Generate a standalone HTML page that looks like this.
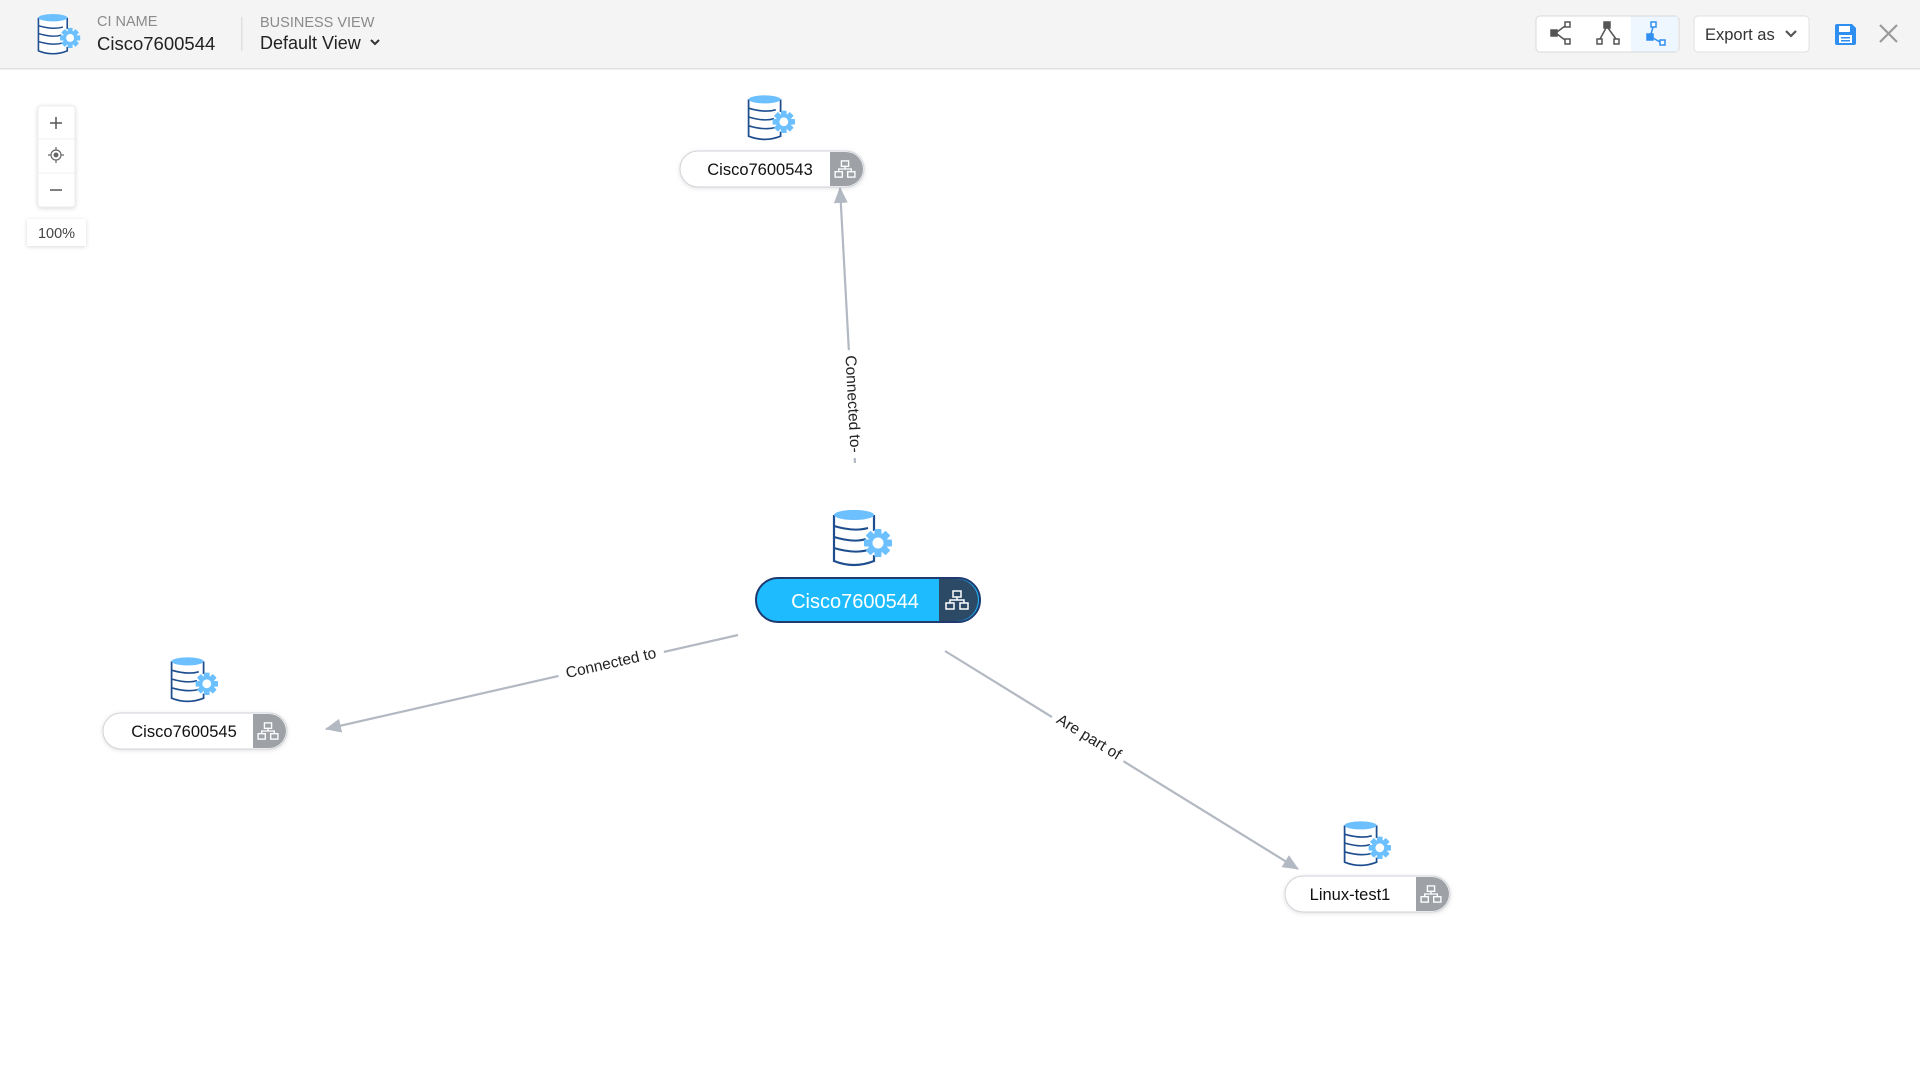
<!DOCTYPE html>
<html><head><meta charset="utf-8">
<style>
html,body{margin:0;padding:0;width:1920px;height:1080px;overflow:hidden;background:#fff;font-family:"Liberation Sans",sans-serif;}
</style></head>
<body>
<svg width="1920" height="1080" viewBox="0 0 1920 1080" xmlns="http://www.w3.org/2000/svg" style="position:absolute;left:0;top:0;font-family:'Liberation Sans',sans-serif">
<defs>
  <g id="db">
    <ellipse cx="22" cy="8" rx="20" ry="5" fill="#6cc0ff"/>
    <path d="M2 8 V54 Q22 62 42 54 V8" fill="#fff" stroke="#1f4e8f" stroke-width="2.2"/>
    <ellipse cx="22" cy="8" rx="20" ry="5" fill="#6cc0ff"/>
    <path d="M2 19 Q22 25 36 21 M2 30 Q22 36 34 32 M2 41 Q22 47 36 43" fill="none" stroke="#1f4e8f" stroke-width="2"/>
    <g transform="translate(46,36)">
      <circle r="13" fill="#fff"/>
      <g fill="#6cc0ff">
        <circle r="10"/>
        <rect x="-3.5" y="-14" width="7" height="28" rx="1"/>
        <rect x="-3.5" y="-14" width="7" height="28" rx="1" transform="rotate(45)"/>
        <rect x="-3.5" y="-14" width="7" height="28" rx="1" transform="rotate(90)"/>
        <rect x="-3.5" y="-14" width="7" height="28" rx="1" transform="rotate(135)"/>
      </g>
      <circle r="5.5" fill="#fff"/>
    </g>
  </g>
  <g id="tree">
    <g fill="none" stroke="#fff" stroke-width="1.5">
      <rect x="-4" y="-9" width="8" height="6"/>
      <rect x="-11" y="3" width="8" height="6"/>
      <rect x="3" y="3" width="8" height="6"/>
      <path d="M0 -3 V0 M-7 3 V0 H7 V3"/>
    </g>
  </g>
  <marker id="arr" viewBox="0 0 16 14" refX="15" refY="7" markerWidth="16" markerHeight="14" orient="auto" markerUnits="userSpaceOnUse">
    <path d="M0 0 L16 7 L0 14 z" fill="#b3b9c2"/>
  </marker>
</defs>

<rect x="0" y="0" width="1920" height="68" fill="#f4f4f4"/>
<rect x="0" y="68" width="1920" height="1.5" fill="#e0e0e0"/>
<g transform="translate(37,12) scale(0.72)"><use href="#db"/></g>
<text x="97" y="26" font-size="14.5" fill="#8a8a8a">CI NAME</text>
<text x="97" y="50" font-size="18.5" fill="#222">Cisco7600544</text>
<rect x="241" y="17" width="1.5" height="34" fill="#e0e0e0"/>
<text x="260" y="27" font-size="14.5" fill="#8a8a8a">BUSINESS VIEW</text>
<text x="260" y="49" font-size="18" fill="#222">Default View</text>
<path d="M371 40 l4 4 l4 -4" fill="none" stroke="#333" stroke-width="2"/>

<rect x="1536" y="16" width="143" height="36" rx="4" fill="#fff" stroke="#d8d8d8"/>
<rect x="1631" y="16.5" width="47" height="35" fill="#eef7ff"/>
<g fill="#555" stroke="#555" stroke-width="1.5">
  <rect x="1551" y="30" width="6" height="6"/>
  <rect x="1565" y="22" width="5" height="5" fill="#fff"/>
  <rect x="1565" y="39" width="5" height="5" fill="#fff"/>
  <path d="M1557 32 L1565 26 M1557 34 L1565 40" fill="none"/>
  <rect x="1604" y="22" width="6" height="6"/>
  <rect x="1597" y="39" width="5" height="5" fill="#fff"/>
  <rect x="1614" y="39" width="5" height="5" fill="#fff"/>
  <path d="M1606 28 L1600 39 M1608 28 L1616 39" fill="none"/>
</g>
<g fill="#2e8ff0" stroke="#2e8ff0" stroke-width="1.5">
  <rect x="1651" y="22" width="5" height="5" fill="#fff"/>
  <rect x="1647" y="34" width="6" height="6"/>
  <rect x="1660" y="40" width="5" height="5" fill="#fff"/>
  <path d="M1653 27 L1651 34 M1653 38 L1660 42" fill="none"/>
</g>
<rect x="1694" y="16" width="115" height="36" rx="4" fill="#fff" stroke="#e0e0e0"/>
<text x="1705" y="40" font-size="16.5" fill="#333">Export as</text>
<path d="M1786 31 l5 5 l5 -5" fill="none" stroke="#555" stroke-width="2.2"/>
<g transform="translate(1835,24)">
  <path d="M0 2 Q0 0 2 0 H17 L21 4 V19 Q21 21 19 21 H2 Q0 21 0 19 z" fill="#2e8ff0"/>
  <rect x="4" y="2" width="11" height="6" fill="#fff"/>
  <rect x="4" y="11" width="13" height="8" fill="#fff"/>
  <rect x="6" y="13" width="9" height="1.5" fill="#2e8ff0"/>
  <rect x="6" y="16" width="9" height="1.5" fill="#2e8ff0"/>
</g>
<path d="M1880 25 L1897 42 M1897 25 L1880 42" stroke="#9a9a9a" stroke-width="2.2"/>

<rect x="38" y="106" width="37" height="101" rx="3" fill="#fff" stroke="#eee" style="filter:drop-shadow(0 1px 2px rgba(0,0,0,.15))"/>
<path d="M38 139 H75 M38 173 H75" stroke="#f0f0f0"/>
<path d="M56 117 V129 M50 123 H62" stroke="#555" stroke-width="1.5"/>
<circle cx="56" cy="155" r="5" fill="none" stroke="#666" stroke-width="1.2"/>
<circle cx="56" cy="155" r="2.5" fill="#666"/>
<path d="M56 147 V150 M56 160 V163 M48 155 H51 M61 155 H64" stroke="#666" stroke-width="1.2"/>
<path d="M50 190 H62" stroke="#555" stroke-width="1.5"/>
<rect x="27" y="219" width="59" height="27" fill="#fff" style="filter:drop-shadow(0 1px 2px rgba(0,0,0,.15))"/>
<text x="56.5" y="238" font-size="14.5" fill="#444" text-anchor="middle">100%</text>

<g stroke="#b3b9c2" stroke-width="2.2" fill="none">
  <line x1="855" y1="463" x2="840" y2="188" marker-end="url(#arr)"/>
  <line x1="738" y1="635" x2="326" y2="729" marker-end="url(#arr)"/>
  <line x1="945" y1="651" x2="1298" y2="869" marker-end="url(#arr)"/>
</g>
<g font-size="15.5" fill="#222" text-anchor="middle">
  <g transform="translate(853,404) rotate(87)">
    <rect x="-54" y="-9" width="108" height="18" fill="#fff"/>
    <text x="0" y="5">Connected to-</text>
  </g>
  <g transform="translate(611,663) rotate(-12.9)">
    <rect x="-54" y="-10" width="108" height="20" fill="#fff"/>
    <text x="0" y="5">Connected to</text>
  </g>
  <g transform="translate(1089,737) rotate(31.6)">
    <rect x="-42" y="-10" width="84" height="20" fill="#fff"/>
    <text x="0" y="5">Are part of</text>
  </g>
</g>

<g transform="translate(747,93) scale(0.8)"><use href="#db"/></g>
<rect x="680" y="151" width="184" height="36" rx="18" fill="#fff" stroke="#d0d3d8" style="filter:drop-shadow(0 1px 2px rgba(0,0,0,.12))"/>
<path d="M830 152 H846 A17 17 0 0 1 846 186 H830 z" fill="#9ea2a7"/>
<g transform="translate(845,169) scale(0.9)"><use href="#tree"/></g>
<text x="760" y="175" font-size="16.5" fill="#111" text-anchor="middle">Cisco7600543</text>

<g transform="translate(832,507) scale(1.0)"><use href="#db"/></g>
<rect x="756" y="578" width="224" height="44" rx="22" fill="#1ebcff" stroke="#1e3a6e" stroke-width="2"/>
<path d="M939 579 H957 A21 21 0 0 1 957 621 H939 z" fill="#2c4a66"/>
<g transform="translate(957,600)"><use href="#tree"/></g>
<text x="855" y="608" font-size="20" fill="#fff" text-anchor="middle">Cisco7600544</text>

<g transform="translate(170,655) scale(0.8)"><use href="#db"/></g>
<rect x="103" y="713" width="184" height="36" rx="18" fill="#fff" stroke="#d0d3d8" style="filter:drop-shadow(0 1px 2px rgba(0,0,0,.12))"/>
<path d="M253 714 H269 A17 17 0 0 1 269 748 H253 z" fill="#9ea2a7"/>
<g transform="translate(268,731) scale(0.9)"><use href="#tree"/></g>
<text x="184" y="737" font-size="16.5" fill="#111" text-anchor="middle">Cisco7600545</text>

<g transform="translate(1343,819) scale(0.8)"><use href="#db"/></g>
<rect x="1285" y="876" width="165" height="36" rx="18" fill="#fff" stroke="#d0d3d8" style="filter:drop-shadow(0 1px 2px rgba(0,0,0,.12))"/>
<path d="M1416 877 H1432 A17 17 0 0 1 1432 911 H1416 z" fill="#9ea2a7"/>
<g transform="translate(1431,894) scale(0.9)"><use href="#tree"/></g>
<text x="1350" y="900" font-size="16.5" fill="#111" text-anchor="middle">Linux-test1</text>
</svg>
</body></html>
